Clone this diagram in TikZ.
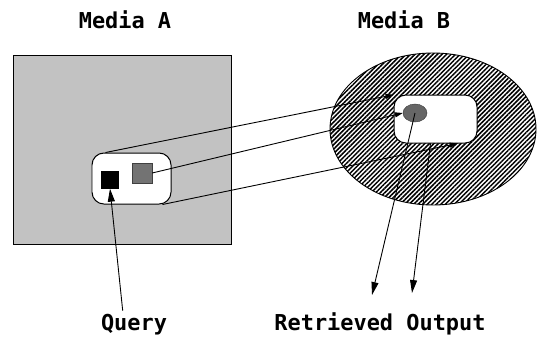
\documentclass[tikz,border=0pt]{standalone}
\usepackage{fontspec}
\setmonofont{DejaVu Sans Mono}
\usetikzlibrary{arrows.meta,patterns.meta,shapes.geometric}

\tikzset{
  label text/.style={font=\ttfamily\bfseries\fontsize{22}{24}\selectfont,inner sep=0pt},
  query box/.style={draw,line width=1pt,rounded corners=12pt,fill=white,inner sep=0pt},
  map line/.style={line width=.9pt,-{Triangle[length=8pt,width=5pt]}},
  out line/.style={line width=.9pt,-{Triangle[length=13pt,width=7pt]}},
}

\begin{document}
\begin{tikzpicture}[x=1bp,y=-1bp]
\path[use as bounding box] (0,0) rectangle (541,343);
% the two media
\node[draw,line width=.9pt,fill=black!24,minimum width=218bp,minimum height=189bp,inner sep=0pt] (mediaA) at (122,149.5) {};
\node[ellipse,draw,line width=.9pt,pattern={Lines[angle=45,distance=3.2pt,line width=1.5pt]},minimum width=206bp,minimum height=152bp,inner sep=0pt] (mediaB) at (433,129) {};
\node[label text,anchor=base] (titleA) at (125,28) {Media A};
\node[label text,anchor=base] (titleB) at (404,28) {Media B};

% query region and retrieved region
\node[query box,minimum width=79bp,minimum height=51bp] (qbox) at (131.5,178.5) {};
\node[fill=black,minimum size=18bp,inner sep=0pt] (qkey) at (110,179.5) {};
\node[fill=black!55,draw=black!75,minimum size=20bp,inner sep=0pt] (qpart) at (142,173) {};
\node[query box,minimum width=83bp,minimum height=48bp] (rbox) at (435.5,119) {};
\node[ellipse,fill=black!60,draw=black!80,minimum width=24bp,minimum height=18bp,inner sep=0pt] (hit) at (415,113) {};

\node[label text,anchor=base] (query) at (134,330) {Query};
\node[label text,anchor=base] (output) at (380,330) {Retrieved Output};
\coordinate (outL) at (372,295);
\coordinate (outR) at (412,293);

% mapping
\draw[map line] (qbox.135) -- (rbox.150);
\draw[map line] (qpart.east) -- (hit.west);
\draw[map line] (qbox.-40) -- (rbox.-48);
\draw[out line] (hit.center) -- (outL);
\draw[out line] ([xshift=-5bp]rbox.south) -- (outR);
\draw[out line,shorten <=3pt] ([xshift=-11bp]query.north) -- (qkey.south);
\end{tikzpicture}
\end{document}
